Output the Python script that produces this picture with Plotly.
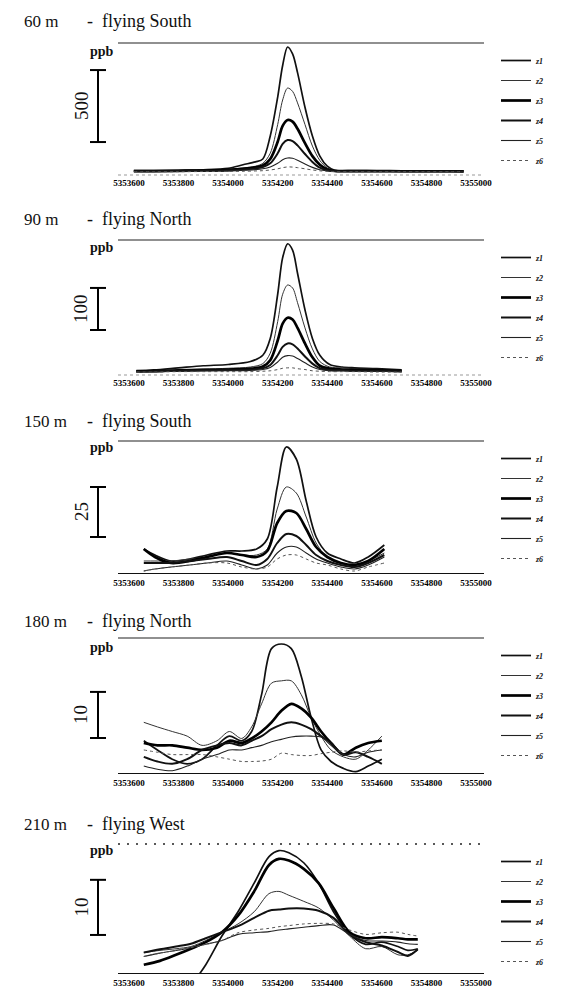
import plotly.graph_objects as go

W, H = 570, 988

# ---------------- data ----------------
tick_values = [5353600, 5353800, 5354000, 5354200, 5354400, 5354600, 5354800, 5355000]
tick_labels = ["5353600", "5353800", "5354000", "5354200", "5354400", "5354600", "5354800", "5355000"]
series_names = ["z1", "z2", "z3", "z4", "z5", "z6"]

panel_heights = ["60 m", "90 m", "150 m", "180 m", "210 m"]
panel_dirs = ["- flying South", "- flying North", "- flying South", "- flying North", "- flying West"]
scale_values = [500, 100, 25, 10, 10]
scale_labels = ["500", "100", "25", "10", "10"]

# Panel 1 : 60 m flying South
p1_x = [5353620, 5353700, 5353800, 5353900, 5354000, 5354060, 5354110, 5354140, 5354170, 5354200,
        5354220, 5354240, 5354260, 5354280, 5354310, 5354340, 5354370, 5354400, 5354430, 5354510,
        5354600, 5354700, 5354800, 5354900, 5354950]
p1_z1 = [10, 10, 12, 15, 25, 50, 70, 90, 250, 520, 740, 868, 820, 690, 450, 250, 110, 40, 12, 10, 8, 8, 6, 6, 5]
p1_z2 = [8, 8, 10, 12, 18, 28, 40, 60, 130, 330, 500, 583, 560, 480, 330, 180, 80, 28, 10, 8, 7, 6, 6, 5, 5]
p1_z3 = [6, 6, 8, 10, 15, 22, 32, 45, 90, 210, 320, 361, 350, 300, 200, 110, 50, 18, 8, 6, 6, 5, 5, 5, 4]
p1_z4 = [5, 5, 6, 8, 12, 18, 25, 35, 60, 130, 195, 222, 215, 185, 125, 70, 30, 12, 6, 5, 5, 4, 4, 4, 4]
p1_z5 = [4, 4, 5, 6, 8, 12, 16, 22, 35, 60, 85, 97, 95, 82, 55, 32, 15, 8, 4, 4, 3, 3, 3, 3, 3]
p1_z6 = [2, 2, 2, 3, 4, 5, 7, 9, 14, 22, 30, 35, 34, 30, 22, 14, 8, 4, 2, 2, 2, 2, 2, 2, 2]

# Panel 2 : 90 m flying North
p2_x = [5353630, 5353700, 5353800, 5353900, 5354000, 5354090, 5354140, 5354170, 5354200, 5354220,
        5354240, 5354260, 5354280, 5354310, 5354340, 5354370, 5354410, 5354460, 5354510, 5354600, 5354700]
p2_z1 = [3, 5, 10, 15, 18, 25, 40, 80, 185, 272, 305, 290, 235, 148, 80, 40, 18, 12, 10, 8, 5]
p2_z2 = [2, 3, 5, 7, 9, 12, 20, 45, 120, 185, 207, 200, 165, 105, 55, 25, 12, 10, 8, 6, 4]
p2_z3 = [2, 2, 4, 5, 6, 8, 13, 28, 75, 115, 129, 125, 105, 68, 35, 15, 8, 6, 5, 4, 3]
p2_z4 = [1, 2, 3, 4, 5, 6, 9, 17, 40, 60, 68, 66, 56, 37, 20, 9, 5, 4, 3, 3, 2]
p2_z5 = [1, 1, 2, 3, 3, 4, 6, 11, 24, 35, 39, 38, 32, 22, 12, 6, 3, 3, 2, 2, 1]
p2_z6 = [0, 0, 1, 1, 1, 1, 2, 3, 6, 9, 10, 10, 8, 6, 3, 2, 1, 1, 1, 0, 0]

# Panel 3 : 150 m flying South
p3_x = [5353660, 5353705, 5353770, 5353845, 5353915, 5353995, 5354055, 5354115, 5354158, 5354198,
        5354235, 5354275, 5354315, 5354355, 5354400, 5354455, 5354510, 5354565, 5354630]
p3_z1 = [12, 9, 6, 7, 9, 11, 11, 12, 17, 43, 63, 57, 36, 18, 10, 7, 5, 8, 14]
p3_z2 = [6, 6, 6, 7, 8, 10, 9, 9, 12, 32, 43, 40, 28, 15, 8, 5, 4, 6, 10]
p3_z3 = [12, 8, 5, 6, 8, 10, 9, 8, 11, 25, 31, 30, 22, 13, 8, 5, 4, 6, 12]
p3_z4 = [5, 5, 5, 6, 7, 8, 6, 4, 7, 15, 19.5, 18.5, 14, 9, 6, 4, 3, 5, 9]
p3_z5 = [1, 2, 3, 4, 5, 6, 4, 2, 4, 10, 13, 13, 10, 7, 5, 3, 2, 4, 8]
p3_z6 = [1, 2, 3, 4, 5, 5, 3, 2, 3, 7, 9, 9, 7, 5, 4, 2, 1, 3, 5]

# Panel 4 : 180 m flying North
p4_x = [5353660, 5353715, 5353775, 5353835, 5353895, 5353955, 5354005, 5354055, 5354095, 5354135,
        5354175, 5354215, 5354255, 5354295, 5354335, 5354375, 5354415, 5354465, 5354515, 5354565, 5354620]
p4_z1 = [7, 5, 3, 2, 3, 6, 8, 7, 9, 17, 27, 28, 27, 21, 12, 5, 2.5, 1, 0.3, 1.5, 3]
p4_z2 = [11, 10, 9, 8, 6, 7, 9, 7.5, 10, 15, 19.5, 20, 20, 17, 12, 8, 5, 3.5, 3, 5, 8]
p4_z3 = [6.5, 6, 6, 5.5, 5, 5.5, 7, 6.5, 7.5, 9, 11, 13.5, 15, 14, 12, 9, 6.5, 4, 5.5, 6.5, 7]
p4_z4 = [3.5, 2.5, 2, 3, 5, 6, 6.5, 6, 7, 8, 9.5, 10.5, 11, 10.5, 9.5, 8, 6.5, 4, 4.5, 3.5, 2]
p4_z5 = [1.5, 0.8, 0.5, 1.5, 3, 4, 5, 5, 5.5, 6, 6.8, 7.3, 7.8, 8, 8, 7.8, 6, 4, 3.5, 4.5, 5]
p4_z6 = [5, 4.5, 4, 4, 4, 3.5, 3, 2.5, 2.5, 2.6, 3, 4.3, 4, 3.8, 3.8, 4.2, 4.5, 4.8, 4.5, 4.8, 5]

# Panel 5 : 210 m flying West
p5_x = [5353660, 5353725, 5353790, 5353850, 5353910, 5353975, 5354040, 5354105, 5354165, 5354205,
        5354245, 5354305, 5354365, 5354425, 5354490, 5354555, 5354620, 5354685, 5354725, 5354765]
p5_z1 = [-10.4, -8.1, -5.2, -2.2, 1.5, 6.7, 11.1, 16.3, 21.1, 22.2, 21.8, 20, 16.3, 11.1, 7, 5.2, 5.6, 4.8, 4.1, 4.4]
p5_z2 = [3.7, 4.1, 4.4, 4.8, 5.9, 7.4, 8.9, 11.1, 14.4, 14.8, 14.1, 13, 11.8, 9.6, 6.7, 4.4, 4.8, 3.3, 3.3, 4.1]
p5_z3 = [1.5, 2.2, 3.3, 4.4, 5.6, 7.4, 10.4, 14.8, 19.6, 20.7, 20.4, 18.9, 16.3, 11.8, 7.4, 6.3, 6.5, 6.3, 6.1, 6.1]
p5_z4 = [3.7, 4.3, 4.8, 5.3, 6.3, 7.4, 8.5, 10, 11.3, 11.5, 11.7, 11.7, 11.3, 10, 7, 5.6, 5, 3.8, 3.1, 4.3]
p5_z5 = [3, 3.6, 4.1, 4.6, 5.2, 5.9, 7, 7.3, 7.5, 7.8, 8, 8.3, 8.6, 8.7, 7, 5.9, 5.8, 5.6, 5.3, 5.2]
p5_z6 = [3, 3.6, 4.1, 4.6, 5.2, 5.9, 7.3, 7.8, 8.1, 8.4, 8.6, 8.9, 9, 8.9, 7.8, 7, 7.3, 7.4, 7, 6.7]

panels = [
    (p1_x, [p1_z1, p1_z2, p1_z3, p1_z4, p1_z5, p1_z6]),
    (p2_x, [p2_z1, p2_z2, p2_z3, p2_z4, p2_z5, p2_z6]),
    (p3_x, [p3_z1, p3_z2, p3_z3, p3_z4, p3_z5, p3_z6]),
    (p4_x, [p4_z1, p4_z2, p4_z3, p4_z4, p4_z5, p4_z6]),
    (p5_x, [p5_z1, p5_z2, p5_z3, p5_z4, p5_z5, p5_z6]),
]

# ---------------- layout geometry (pixels) ----------------
plot_left, plot_right = 118, 484
x_range = [5353556, 5355032]
panel_top = [43, 240, 441, 638, 844]
panel_bot = [175, 375, 573, 773, 973]
y_ranges = [[-21, 896], [-7, 314], [0, 66], [0, 29.3], [0, 23.4]]
bar_low = [208, 100, 18, 7.6, 6.9]
title_y = [21, 219, 421, 621, 824]
ppb_y = [51, 248, 447, 647, 850]
bar_x, cap_l, cap_r = 98, 90, 106
scale_lab_x = 81
legend_x = 496

line_styles = [
    dict(color="#111", width=1.7, dash="solid"),
    dict(color="#333", width=1.0, dash="solid"),
    dict(color="#000", width=2.7, dash="solid"),
    dict(color="#111", width=2.0, dash="solid"),
    dict(color="#222", width=1.1, dash="solid"),
    dict(color="#555", width=1.0, dash="dot"),
]

SERIF = "Liberation Serif, Times New Roman, serif"


def px_x(v):
    return v / W


def px_y(v):
    return 1 - v / H


fig = go.Figure()
annotations = []
shapes = []
layout = {}

for i, (xs, ys_list) in enumerate(panels):
    n = i + 1
    sfx = "" if n == 1 else str(n)
    xref, yref = "x" + sfx, "y" + sfx
    legname = "legend" + sfx
    for j, (name, ys) in enumerate(zip(series_names, ys_list)):
        fig.add_trace(go.Scatter(
            x=xs, y=ys, mode="lines", name="<i><b>" + name + "</b></i>",
            line=dict(shape="spline", smoothing=0.9, **line_styles[j]),
            xaxis=xref, yaxis=yref, legend=legname, legendgroup=f"p{n}{name}",
            showlegend=True,
        ))
    layout["xaxis" + sfx] = dict(
        domain=[px_x(plot_left), px_x(plot_right)], range=x_range, anchor=yref,
        tickmode="array", tickvals=tick_values, ticktext=tick_labels,
        tickfont=dict(family=SERIF, size=9, color="#000", weight="bold"),
        showgrid=False, zeroline=False, ticks="", ticklabelstandoff=1,
        showline=(n >= 3), linecolor="#111", linewidth=1.2,
    )
    layout["yaxis" + sfx] = dict(
        domain=[px_y(panel_bot[i]), px_y(panel_top[i])], range=y_ranges[i],
        anchor=xref, visible=False, showgrid=False, zeroline=False,
    )
    layout[legname] = dict(
        x=px_x(legend_x), y=px_y(panel_top[i] + 3), xanchor="left", yanchor="top",
        font=dict(family=SERIF, size=8, color="#111"), bgcolor="rgba(0,0,0,0)",
        tracegroupgap=1, itemwidth=30,
    )
    # top frame line
    shapes.append(dict(type="line", xref=xref + " domain", yref=yref + " domain",
                       x0=0, x1=1, y0=1, y1=1,
                       line=dict(color="#222", width=1.2 if n < 5 else 1.6,
                                 dash="solid" if n < 5 else "2px,7px")))
    if n < 3:
        shapes.append(dict(type="line", xref=xref + " domain", yref=yref + " domain",
                           x0=0, x1=1, y0=0, y1=0,
                           line=dict(color="#999", width=1, dash="dot")))
    # scale bar
    lo, hi = bar_low[i], bar_low[i] + scale_values[i]
    shapes.append(dict(type="line", xref="paper", yref=yref, x0=px_x(bar_x), x1=px_x(bar_x),
                       y0=lo, y1=hi, line=dict(color="#000", width=2)))
    for yy in (lo, hi):
        shapes.append(dict(type="line", xref="paper", yref=yref, x0=px_x(cap_l), x1=px_x(cap_r),
                           y0=yy, y1=yy, line=dict(color="#000", width=2)))
    annotations.append(dict(xref="paper", yref=yref, x=px_x(scale_lab_x), y=(lo + hi) / 2,
                            xanchor="center", yanchor="middle",
                            text=scale_labels[i], textangle=-90, showarrow=False,
                            font=dict(family=SERIF, size=19, color="#111")))
    # titles
    annotations.append(dict(xref="paper", yref="paper", x=px_x(22), y=px_y(title_y[i]),
                            xanchor="left", yanchor="middle", text=panel_heights[i],
                            showarrow=False, font=dict(family=SERIF, size=17, color="#111")))
    annotations.append(dict(xref="paper", yref="paper", x=px_x(85), y=px_y(title_y[i]),
                            xanchor="left", yanchor="middle",
                            text=panel_dirs[i].replace("- ", "-&nbsp;&nbsp;"),
                            showarrow=False, font=dict(family=SERIF, size=18, color="#111")))
    annotations.append(dict(xref="paper", yref="paper", x=px_x(88), y=px_y(ppb_y[i]),
                            xanchor="left", yanchor="middle", text="<b>ppb</b>",
                            showarrow=False, font=dict(family=SERIF, size=14, color="#111")))

fig.update_layout(
    width=W, height=H, margin=dict(l=0, r=0, t=0, b=0, autoexpand=False),
    paper_bgcolor="white", plot_bgcolor="white",
    shapes=shapes, annotations=annotations, **layout,
)

fig.write_html("out.html", config={"displayModeBar": False},
               post_script="document.body.style.margin='0px';document.body.style.padding='0px';")
